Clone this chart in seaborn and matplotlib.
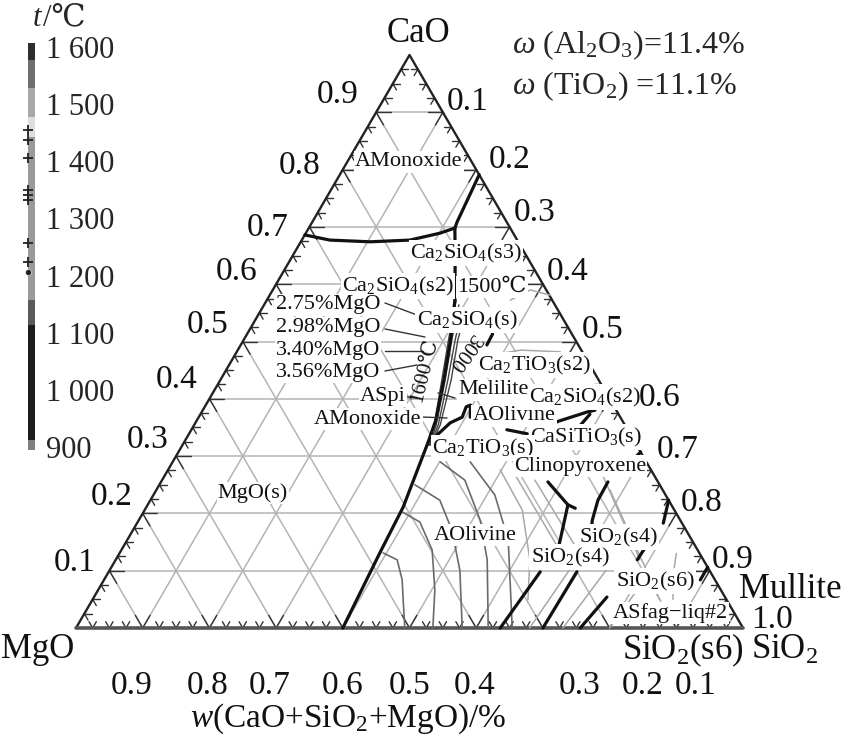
import numpy as np
import pandas as pd
import matplotlib
matplotlib.use("Agg")
import matplotlib.pyplot as plt
import seaborn as sns

sns.set_theme(style="white")
plt.rcParams['font.family'] = ['Liberation Serif', 'DejaVu Serif', 'DejaVu Sans']
plt.rcParams['mathtext.fontset'] = 'custom'
plt.rcParams['mathtext.rm'] = 'Liberation Serif'
plt.rcParams['mathtext.it'] = 'Liberation Serif:italic'
plt.rcParams['mathtext.bf'] = 'Liberation Serif:bold'

# ---------------- data: (CaO, SiO2) mass fractions ----------------
# thick phase boundaries
b_monoxide = [(0.686, 0.000), (0.677, 0.042), (0.674, 0.104), (0.677, 0.162), (0.689, 0.201), (0.698, 0.219)]
b_s3_top = [(0.698, 0.219), (0.709, 0.217), (0.791, 0.209)]
b_main = [(0.698, 0.219), (0.651, 0.243), (0.572, 0.282), (0.503, 0.310), (0.433, 0.335),
          (0.363, 0.358), (0.323, 0.366), (0.211, 0.385), (0.131, 0.390), (0.000, 0.400)]
b_olivine = [(0.337, 0.373), (0.358, 0.382), (0.368, 0.395), (0.386, 0.392), (0.389, 0.397), (0.368, 0.407)]
b_s_short = [(0.494, 0.369), (0.513, 0.368)]
b_r1 = [(0.360, 0.541), (0.377, 0.578), (0.380, 0.588)]
b_r2 = [(0.349, 0.578), (0.373, 0.584)]
b_r3 = [(0.346, 0.473), (0.339, 0.507)]
b_r4 = [(0.271, 0.680), (0.307, 0.693)]
b_r5 = [(0.255, 0.580), (0.215, 0.630), (0.154, 0.649), (0.119, 0.659)]
b_r5b = [(0.215, 0.630), (0.209, 0.644)]
b_r6 = [(0.255, 0.670), (0.223, 0.671), (0.188, 0.680), (0.154, 0.694)]
b_r7 = [(0.183, 0.789), (0.223, 0.777)]
b_r8 = [(0.000, 0.636), (0.098, 0.647)]
b_r9 = [(0.000, 0.700), (0.098, 0.702)]
b_r10 = [(0.000, 0.756), (0.054, 0.769)]
b_r11 = [(0.119, 0.782), (0.154, 0.784)]
b_r12 = [(0.084, 0.894), (0.106, 0.894)]

# MgO-content liquidus bundle (2.75, 2.98, 3.40, 3.56 % MgO)
mg275 = [(0.572, 0.284), (0.503, 0.307), (0.433, 0.332), (0.354, 0.360), (0.319, 0.368)]
mg298 = [(0.564, 0.292), (0.503, 0.312), (0.433, 0.337), (0.354, 0.363), (0.319, 0.370)]
mg340 = [(0.555, 0.301), (0.503, 0.317), (0.433, 0.341), (0.354, 0.366), (0.319, 0.371)]
mg356 = [(0.546, 0.310), (0.503, 0.321), (0.433, 0.346), (0.354, 0.369), (0.319, 0.372)]

# isotherms (thin grey)
iso1 = [(0.131, 0.395), (0.119, 0.422), (0.084, 0.447), (0.049, 0.466), (0.000, 0.493)]
iso2 = [(0.202, 0.389), (0.185, 0.423), (0.136, 0.466), (0.066, 0.505), (0.000, 0.535)]
iso3 = [(0.250, 0.383), (0.223, 0.434), (0.171, 0.478), (0.101, 0.525), (0.000, 0.579)]
iso4 = [(0.290, 0.401), (0.258, 0.454), (0.188, 0.512), (0.119, 0.557), (0.000, 0.618)]
iso5 = [(0.290, 0.446), (0.232, 0.512), (0.154, 0.571), (0.000, 0.654)]
iso6 = [(0.276, 0.498), (0.206, 0.566), (0.119, 0.621), (0.049, 0.653)]
iso7 = [(0.572, 0.365), (0.590, 0.386), (0.581, 0.420)]
iso8 = [(0.476, 0.383), (0.485, 0.424), (0.482, 0.485)]
iso9 = [(0.130, 0.835), (0.090, 0.850), (0.050, 0.870)]
g1 = [(0.267, 0.525), (0.119, 0.674)]
g2 = [(0.258, 0.559), (0.101, 0.720)]
g3 = [(0.276, 0.648), (0.119, 0.786)]
g4 = [(0.241, 0.680), (0.049, 0.851)]
g5 = [(0.000, 0.680), (0.110, 0.690)]
g6 = [(0.000, 0.730), (0.105, 0.745)]
g7 = [(0.000, 0.800), (0.080, 0.810)]

# axis tick labels
left_labels = ['0.9', '0.8', '0.7', '0.6', '0.5', '0.4', '0.3', '0.2', '0.1']
right_labels = ['0.1', '0.2', '0.3', '0.4', '0.5', '0.6', '0.7', '0.8', '0.9', '1.0']
bottom_labels = ['0.9', '0.8', '0.7', '0.6', '0.5', '0.4', '0.3', '0.2', '0.1']

# colour bar
cb_bottoms = [895, 912, 1113, 1157, 1442, 1477, 1528, 1577]
cb_tops = [912, 1113, 1157, 1442, 1477, 1528, 1577, 1607]
cb_colors = ['#808080', '#1c1c1c', '#5a5a5a', '#9a9a9a', '#dedede', '#a8a8a8', '#6e6e6e', '#2e2e2e']
cb_ticks = [900, 1000, 1100, 1200, 1300, 1400, 1500, 1600]
cb_ticklabels = ['900', '1 000', '1 100', '1 200', '1 300', '1 400', '1 500', '1 600']
cb_marks = [1455, 1437, 1406, 1350, 1341, 1332, 1257, 1224]
cb_dot = [1206]

# ---------------- helpers ----------------
S3 = np.sqrt(3) / 2
PX, PY0, PH = 667.0, 628.0, 573.0


def tern(c, s):
    return s + c / 2.0, c * S3


def P(px, py):
    return (px - 76) / PX, (PY0 - py) / PH * S3


def frame(lines):
    rows = []
    for name, pts in lines.items():
        for i, (c, s) in enumerate(pts):
            x, y = tern(c, s)
            rows.append((name, i, x, y))
    return pd.DataFrame(rows, columns=['line', 'i', 'x', 'y'])


fig = plt.figure(figsize=(8.46, 7.40), dpi=100)
ax = fig.add_axes([0, 0, 1, 1])
ax.set_xlim(-76 / PX, (846 - 76) / PX)
ax.set_ylim((PY0 - 740) / PH * S3, PY0 / PH * S3)
ax.axis('off')

# grid
for v in np.arange(0.1, 0.95, 0.1):
    for a, b in [(tern(v, 0), tern(v, 1 - v)), (tern(0, v), tern(1 - v, v)), (tern(0, 1 - v), tern(1 - v, 0))]:
        ax.plot([a[0], b[0]], [a[1], b[1]], color='#b4b4b4', lw=1.1, zorder=1)

# ticks
dirs = {
    'bottom': [(0.5, S3), (-0.5, S3)],
    'left': [(1, 0), (0.5, -S3)],
    'right': [(-1, 0), (-0.5, -S3)],
}
for k in range(1, 40):
    t = k * 0.025
    major = (k % 4 == 0)
    L = 0.022 if major else 0.011
    pts = {'bottom': tern(0, t), 'left': tern(t, 0), 'right': tern(t, 1 - t)}
    for side, (x0, y0) in pts.items():
        for dx, dy in dirs[side]:
            ax.plot([x0, x0 + dx * L], [y0, y0 + dy * L], color='#333333', lw=1.0, zorder=2)

# edges
ax.plot([0, 0.5, 1], [0, S3, 0], color='#222222', lw=1.7, zorder=3)
ax.plot([0, 1.0], [0, 0], color='#555555', lw=2.6, zorder=3)

# thin lines
thin_light = frame({'iso6': iso6, 'iso7': iso7, 'iso8': iso8, 'iso9': iso9, 'g1': g1, 'g2': g2, 'g3': g3,
                    'g4': g4, 'g5': g5, 'g6': g6, 'g7': g7})
sns.lineplot(data=thin_light, x='x', y='y', units='line', estimator=None, sort=False,
             color='#a8a8a8', lw=1.1, ax=ax, legend=False, zorder=3)
thin_mid = frame({'iso1': iso1, 'iso2': iso2, 'iso3': iso3, 'iso4': iso4, 'iso5': iso5})
sns.lineplot(data=thin_mid, x='x', y='y', units='line', estimator=None, sort=False,
             color='#6a6a6a', lw=1.2, ax=ax, legend=False, zorder=3)
bundle = frame({'mg275': mg275, 'mg298': mg298, 'mg340': mg340, 'mg356': mg356})
sns.lineplot(data=bundle, x='x', y='y', units='line', estimator=None, sort=False,
             color='#444444', lw=1.0, ax=ax, legend=False, zorder=4)

thick = frame({'monoxide': b_monoxide, 's3': b_s3_top, 'main': b_main, 'olivine': b_olivine,
               'sshort': b_s_short, 'r1': b_r1, 'r2': b_r2, 'r3': b_r3, 'r4': b_r4, 'r5': b_r5,
               'r5b': b_r5b, 'r6': b_r6, 'r7': b_r7, 'r8': b_r8, 'r9': b_r9, 'r10': b_r10,
               'r11': b_r11, 'r12': b_r12})
sns.lineplot(data=thick, x='x', y='y', units='line', estimator=None, sort=False,
             color='#111111', lw=2.3, ax=ax, legend=False, zorder=5)

# leader lines
for (x0, y0, x1, y1) in [(385, 303, 417, 315), (385, 329, 425, 337), (385, 351, 423, 351),
                         (385, 371, 417, 365), (407, 397, 417, 398), (438, 393, 455, 398),
                         (422, 417, 447, 418)]:
    a, b = P(x0, y0), P(x1, y1)
    ax.plot([a[0], b[0]], [a[1], b[1]], color='#333333', lw=1.0, zorder=6)

# ---------------- text ----------------
def label(txt, px, py, size=16, box=True, **kw):
    bb = dict(fc='white', ec='none', pad=1.0) if box else None
    ax.text(*P(px, py), txt, ha='center', va='center', fontsize=size, bbox=bb, zorder=8, color='#111111', **kw)


phase_labels = [
    ('AMonoxide', 409, 162), ('Ca$_2$SiO$_4$(s3)', 466, 253), ('Ca$_2$SiO$_4$(s2)', 398, 286),
    ('1500℃', 492, 287), ('2.75%MgO', 328, 305), ('2.98%MgO', 328, 328), ('3.40%MgO', 328, 350),
    ('3.56%MgO', 328, 372), ('Ca$_2$SiO$_4$(s)', 467, 320), ('Ca$_2$TiO$_3$(s2)', 535, 365),
    ('ASpi', 383, 396), ('Melilite', 494, 390), ('AMonoxide', 368, 419), ('AOlivine', 514, 416),
    ('Ca$_2$SiO$_4$(s2)', 585, 397), ('CaSiTiO$_3$(s)', 586, 437), ('Ca$_2$TiO$_3$(s)', 483, 448),
    ('Clinopyroxene', 580, 466), ('MgO(s)', 253, 493), ('AOlivine', 475, 535),
    ('SiO$_2$(s4)', 618, 537), ('SiO$_2$(s4)', 570, 557), ('SiO$_2$(s6)', 655, 581),
    ('ASfag−liq#2', 670, 613),
]
for txt, x, y in phase_labels:
    label(txt, x, y)

label('1600℃', 425, 370, size=15, box=False, rotation=76)
label('3000', 463, 352, size=15, box=False, rotation=234)

NUM = 24
left_pos = [(338, 95), (300, 166), (268, 228), (237, 272), (208, 325), (177, 380), (148, 440), (112, 497), (75, 563)]
for t, (x, y) in zip(left_labels, left_pos):
    label(t, x, y, size=NUM, box=False)
right_pos = [(468, 102), (510, 160), (535, 213), (568, 272), (603, 330), (660, 398), (678, 450),
             (702, 503), (733, 560), (772, 620)]
for t, (x, y) in zip(right_labels, right_pos):
    label(t, x, y, size=NUM, box=False)
bottom_pos = [(132, 686), (208, 686), (270, 686), (343, 686), (410, 686), (475, 686), (580, 686), (643, 686), (696, 686)]
for t, (x, y) in zip(bottom_labels, bottom_pos):
    label(t, x, y, size=NUM, box=False)

label('$w$(CaO+SiO$_2$+MgO)/%', 348, 719, size=NUM, box=False)
label('CaO', 418, 34, size=25, box=False)
label('MgO', 38, 650, size=25, box=False)
label('SiO$_2$(s6)', 683, 650, size=25, box=False)
label('SiO$_2$', 785, 650, size=25, box=False)
label('Mullite', 790, 590, size=25, box=False)

fig.text(512 / 846, 1 - 45 / 740, r'$\omega$ (Al$_2$O$_3$)=11.4%', fontsize=23, ha='left', va='center')
fig.text(512 / 846, 1 - 86 / 740, r'$\omega$ (TiO$_2$) =11.1%', fontsize=23, ha='left', va='center')

# ---------------- colour bar ----------------
cax = fig.add_axes([28 / 846, 1 - 450 / 740, 7 / 846, (450 - 43) / 740])
cb = pd.DataFrame({'bottom': cb_bottoms, 'top': cb_tops, 'color': cb_colors})
for _, r in cb.iterrows():
    cax.bar(0, r['top'] - r['bottom'], bottom=r['bottom'], width=1.0, color=r['color'], lw=0)
cax.set_xlim(-0.5, 0.5)
cax.set_ylim(895, 1607)
cax.set_xticks([])
cax.yaxis.tick_right()
cax.set_yticks(cb_ticks)
cax.set_yticklabels(cb_ticklabels, fontsize=22)
cax.tick_params(axis='y', length=0, pad=8)
for sp in cax.spines.values():
    sp.set_visible(False)
sns.scatterplot(x=[-0.45] * len(cb_marks), y=cb_marks, marker='+', s=60, color='#222222',
                linewidth=1.3, ax=cax, clip_on=False, zorder=5, legend=False)
sns.scatterplot(x=[-0.45] * len(cb_dot), y=cb_dot, marker='o', s=18, color='#222222',
                ax=cax, clip_on=False, zorder=5, legend=False)
fig.text(37 / 846, 1 - 18 / 740, 't', fontsize=22, style='italic', ha='center', va='center')
fig.text(43 / 846, 1 - 18 / 740, '/℃', fontsize=22, ha='left', va='center')

fig.savefig('out.png', dpi=100)
